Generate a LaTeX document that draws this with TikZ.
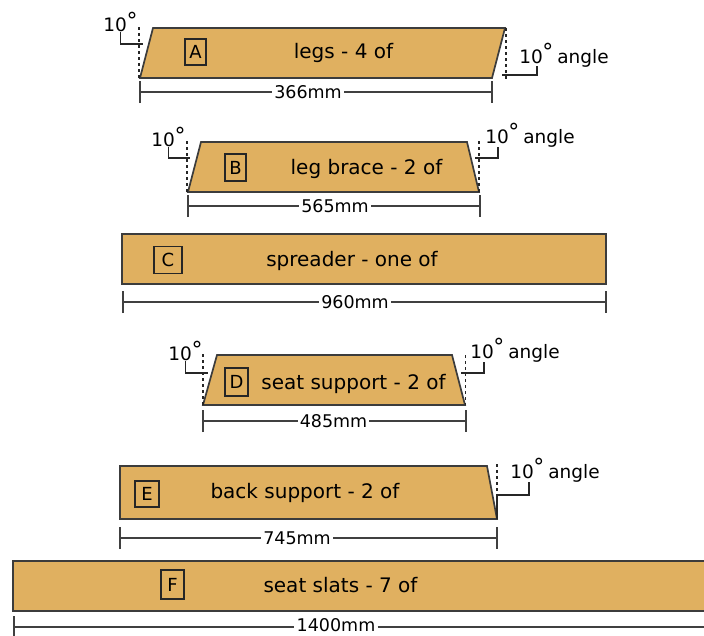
\documentclass[tikz,border=0pt]{standalone}
\usepackage{fontspec}
\setmainfont{DejaVu Sans}
\usetikzlibrary{arrows.meta}
\definecolor{timber}{HTML}{E0B060}
\definecolor{edgegrey}{HTML}{3C3C3C}
\newcommand{\tenmark}{10\kern-.5pt\raisebox{.2em}{\fontsize{22}{22}\selectfont °}}

\begin{document}
\begin{tikzpicture}[x=1pt,y=-1pt,
    board/.style={draw=edgegrey,line width=1.7pt,fill=timber},
    partname/.style={font=\fontsize{20}{20}\selectfont,inner sep=0pt},
    letterbox/.style 2 args={draw=black!85,line width=1.5pt,fill=none,minimum width=#1 pt,minimum height=#2 pt,inner sep=0pt,font=\fontsize{18}{18}\selectfont},
    size/.style={font=\fontsize{17.5}{17.5}\selectfont,inner sep=2pt},
    angletext/.style={font=\fontsize{18.5}{18.5}\selectfont,inner sep=0pt},
    dimline/.style={draw=black!75,line width=1.4pt,{Bar[width=22pt,line width=2pt]}-},
    leader/.style={draw=black!85,line width=1.2pt},
    plumb/.style={draw=black!85,line width=1.4pt,dash pattern=on 2.5pt off 3.5pt}]
    \useasboundingbox (0,0) rectangle (704,635);

    % A - legs
    \draw[board] (140,78) -- (153,28) -- (505,28) -- (492,78) -- cycle;
    \node[letterbox={21}{26}] (boxA) at (195.5,52) {A};
    \node[partname] (nameA) at (343.5,53) {legs - 4 of};
    \coordinate (dimAl) at (138.5,92);
    \coordinate (dimAr) at (493,92);
    \node[size] (sizeA) at (308,92) {366mm};
    \draw[dimline] (dimAl) -- (sizeA);
    \draw[dimline] (dimAr) -- (sizeA);
    \coordinate (plumbAl) at (139,27);
    \coordinate (plumbAlb) at (139,78);
    \draw[plumb] (plumbAl) -- (plumbAlb);
    \node[angletext] (angAl) at (120.5,22) {\tenmark};
    \coordinate (leadAl) at (143,44);
    \draw[leader] (angAl.south) |- (leadAl);
    \coordinate (plumbAr) at (506,28);
    \coordinate (plumbArb) at (506,79);
    \draw[plumb] (plumbAr) -- (plumbArb);
    \node[angletext] (angAr) at (564,55) {\tenmark\kern-2pt{} angle};
    \coordinate (leadAr) at (502,75);
    \coordinate (riseAr) at (537,66);
    \draw[leader] (leadAr) -| (riseAr);

    % B - leg brace
    \draw[board] (188,192) -- (201,142) -- (467,142) -- (479,192) -- cycle;
    \node[letterbox={21}{27}] (boxB) at (235.5,167.5) {B};
    \node[partname] (nameB) at (366.5,169) {leg brace - 2 of};
    \coordinate (dimBl) at (186.5,206);
    \coordinate (dimBr) at (481,206);
    \node[size] (sizeB) at (335,206) {565mm};
    \draw[dimline] (dimBl) -- (sizeB);
    \draw[dimline] (dimBr) -- (sizeB);
    \coordinate (plumbBl) at (187,141);
    \coordinate (plumbBlb) at (187,192);
    \draw[plumb] (plumbBl) -- (plumbBlb);
    \node[angletext] (angBl) at (168.5,137) {\tenmark};
    \coordinate (leadBl) at (190,158);
    \draw[leader] (angBl.south) |- (leadBl);
    \coordinate (plumbBr) at (479,141);
    \coordinate (plumbBrb) at (479,192);
    \draw[plumb] (plumbBr) -- (plumbBrb);
    \node[angletext] (angBr) at (530,135) {\tenmark\kern-2pt{} angle};
    \coordinate (leadBr) at (475,158);
    \coordinate (riseBr) at (498,147);
    \draw[leader] (leadBr) -| (riseBr);

    % C - spreader
    \draw[board] (122,234) rectangle (606,284);
    \node[letterbox={28}{27}] (boxC) at (168,260) {C};
    \node[partname] (nameC) at (352,261) {spreader - one of};
    \coordinate (dimCl) at (121.5,302);
    \coordinate (dimCr) at (607,302);
    \node[size] (sizeC) at (355,302) {960mm};
    \draw[dimline] (dimCl) -- (sizeC);
    \draw[dimline] (dimCr) -- (sizeC);

    % D - seat support
    \draw[board] (203,405) -- (217,355) -- (452,355) -- (465,405) -- cycle;
    \node[letterbox={23}{28}] (boxD) at (236.5,382) {D};
    \node[partname] (nameD) at (353.5,384) {seat support - 2 of};
    \coordinate (dimDl) at (202,421);
    \coordinate (dimDr) at (467,421);
    \node[size] (sizeD) at (333.5,421) {485mm};
    \draw[dimline] (dimDl) -- (sizeD);
    \draw[dimline] (dimDr) -- (sizeD);
    \coordinate (plumbDl) at (203,354);
    \coordinate (plumbDlb) at (203,405);
    \draw[plumb] (plumbDl) -- (plumbDlb);
    \node[angletext] (angDl) at (185.5,351) {\tenmark};
    \coordinate (leadDl) at (208,373);
    \draw[leader] (angDl.south) |- (leadDl);
    \coordinate (plumbDr) at (465.5,355);
    \coordinate (plumbDrb) at (465.5,405);
    \draw[plumb] (plumbDr) -- (plumbDrb);
    \node[angletext] (angDr) at (515,350) {\tenmark\kern-2pt{} angle};
    \coordinate (leadDr) at (461,373);
    \coordinate (riseDr) at (484,362);
    \draw[leader] (leadDr) -| (riseDr);

    % E - back support
    \draw[board] (120,466) -- (487,466) -- (497,519) -- (120,519) -- cycle;
    \node[letterbox={24}{26}] (boxE) at (147,494) {E};
    \node[partname] (nameE) at (305,493) {back support - 2 of};
    \coordinate (dimEl) at (119,538);
    \coordinate (dimEr) at (498,538);
    \node[size] (sizeE) at (297,538) {745mm};
    \draw[dimline] (dimEl) -- (sizeE);
    \draw[dimline] (dimEr) -- (sizeE);
    \coordinate (plumbEr) at (497,464);
    \coordinate (plumbErb) at (497,495);
    \draw[plumb] (plumbEr) -- (plumbErb);
    \node[angletext] (angEr) at (555,470) {\tenmark\kern-2pt{} angle};
    \coordinate (leadEr) at (497,519);
    \coordinate (riseEr) at (529,482);
    \draw[leader] (leadEr) |- (plumbErb) -| (riseEr);

    % F - seat slats
    \draw[board] (13,561) rectangle (710,611);
    \node[letterbox={23}{29}] (boxF) at (172.5,584.5) {F};
    \node[partname] (nameF) at (340.5,585) {seat slats - 7 of};
    \coordinate (dimFl) at (12.5,627);
    \coordinate (dimFr) at (704,627);
    \node[size] (sizeF) at (336,625.5) {1400mm};
    \draw[dimline] (dimFl) -- (sizeF.west |- dimFl);
    \draw[draw=black!75,line width=1.4pt] (sizeF.east |- dimFr) -- (dimFr);
\end{tikzpicture}
\end{document}
